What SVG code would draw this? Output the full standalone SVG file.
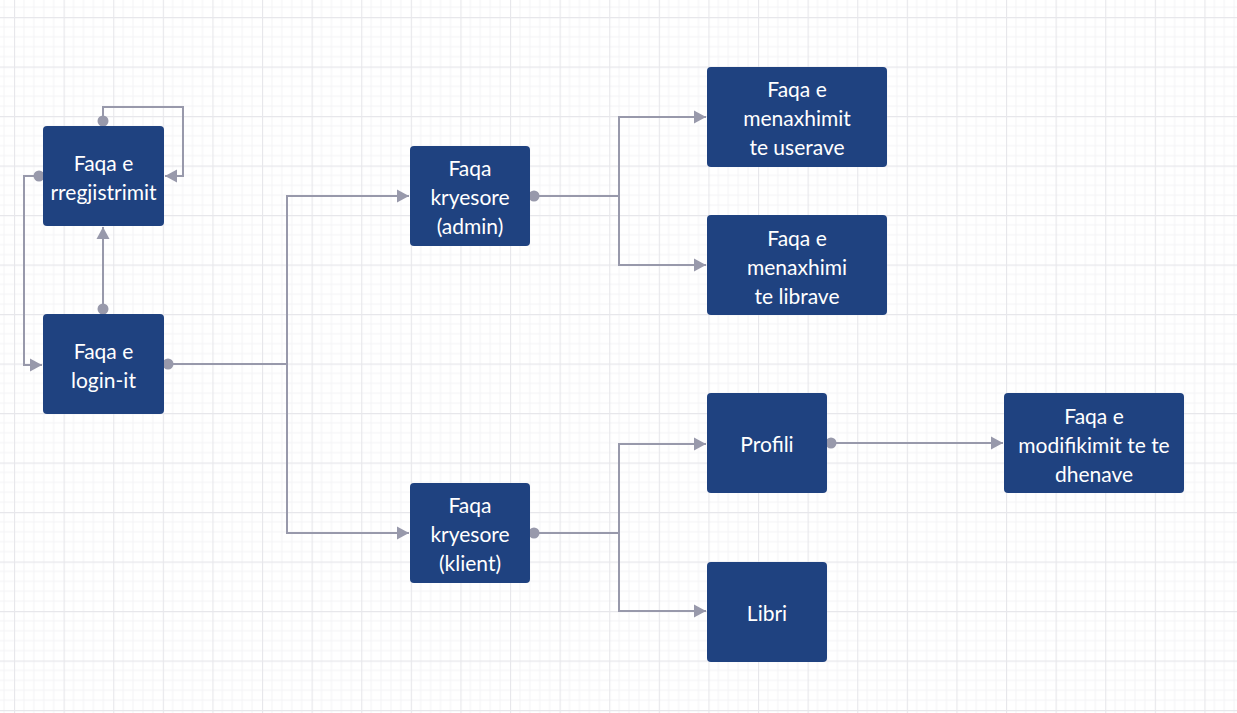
<svg xmlns="http://www.w3.org/2000/svg" width="1237" height="713" viewBox="0 0 1237 713">
<style>
.node rect{fill:#1f4280;}
.node text{fill:#ffffff;font-family:Lato,"Open Sans",sans-serif;font-size:21px;text-anchor:middle;dominant-baseline:central;}
.conn path{fill:none;stroke:#9899ab;stroke-width:2;}
.conn circle{fill:#9899ab;}
</style>
<defs>
<pattern id="grid" patternUnits="userSpaceOnUse" x="14" y="17" width="49.6" height="49.5">
<path d="M9.92 0V49.5M19.84 0V49.5M29.76 0V49.5M39.68 0V49.5M0 9.9H49.6M0 19.8H49.6M0 29.7H49.6M0 39.6H49.6" stroke="#f4f4f6" stroke-width="1" fill="none"/>
<path d="M0.5 0V49.5M0 0.5H49.6" stroke="#e7e7eb" stroke-width="1.3" fill="none"/>
</pattern>
<marker id="arr" markerUnits="userSpaceOnUse" markerWidth="13" markerHeight="14" refX="12" refY="7" orient="auto">
<path d="M0 0.5L12 7L0 13.5Z" fill="#9899ab"/>
</marker>
</defs>
<rect width="1237" height="713" fill="#ffffff"/>
<rect width="1237" height="713" fill="url(#grid)"/>
<g id="connectors" class="conn">
<path d="M103 121V107H183V176H165" marker-end="url(#arr)"/>
<circle cx="103" cy="121" r="5.5"/>
<path d="M39 176H24V365H42" marker-end="url(#arr)"/>
<circle cx="39" cy="176" r="5.5"/>
<path d="M103 309V227" marker-end="url(#arr)"/>
<circle cx="103" cy="309" r="5.5"/>
<path d="M168 364H287V196H409" marker-end="url(#arr)"/>
<path d="M287 364V533H409" marker-end="url(#arr)"/>
<circle cx="168" cy="364" r="5.5"/>
<path d="M534 196H619V117H706" marker-end="url(#arr)"/>
<path d="M619 196V265H706" marker-end="url(#arr)"/>
<circle cx="534" cy="196" r="5.5"/>
<path d="M534 533H619V444H706" marker-end="url(#arr)"/>
<path d="M619 533V611H706" marker-end="url(#arr)"/>
<circle cx="534" cy="533" r="5.5"/>
<path d="M831 443H1003" marker-end="url(#arr)"/>
<circle cx="831" cy="443" r="5.5"/>
</g>
<g id="node-rregjistrimit" class="node">
<rect x="43" y="126" width="121" height="100" rx="4"/>
<text x="103.5" y="162">Faqa e</text>
<text x="103.5" y="191">rregjistrimit</text>
</g>
<g id="node-login" class="node">
<rect x="43" y="314" width="121" height="100" rx="4"/>
<text x="103.5" y="350">Faqa e</text>
<text x="103.5" y="379">login-it</text>
</g>
<g id="node-admin" class="node">
<rect x="410" y="146" width="120" height="100" rx="4"/>
<text x="470" y="167">Faqa</text>
<text x="470" y="196">kryesore</text>
<text x="470" y="225">(admin)</text>
</g>
<g id="node-klient" class="node">
<rect x="410" y="483" width="120" height="100" rx="4"/>
<text x="470" y="504">Faqa</text>
<text x="470" y="533">kryesore</text>
<text x="470" y="562">(klient)</text>
</g>
<g id="node-userave" class="node">
<rect x="707" y="67" width="180" height="100" rx="4"/>
<text x="797" y="88">Faqa e</text>
<text x="797" y="117">menaxhimit</text>
<text x="797" y="146">te userave</text>
</g>
<g id="node-librave" class="node">
<rect x="707" y="215" width="180" height="100" rx="4"/>
<text x="797" y="237">Faqa e</text>
<text x="797" y="266">menaxhimi</text>
<text x="797" y="295">te librave</text>
</g>
<g id="node-profili" class="node">
<rect x="707" y="393" width="120" height="100" rx="4"/>
<text x="767" y="443">Profili</text>
</g>
<g id="node-modifikimit" class="node">
<rect x="1004" y="393" width="180" height="100" rx="4"/>
<text x="1094" y="415">Faqa e</text>
<text x="1094" y="444">modifikimit te te</text>
<text x="1094" y="473">dhenave</text>
</g>
<g id="node-libri" class="node">
<rect x="707" y="562" width="120" height="100" rx="4"/>
<text x="767" y="612">Libri</text>
</g>
</svg>
